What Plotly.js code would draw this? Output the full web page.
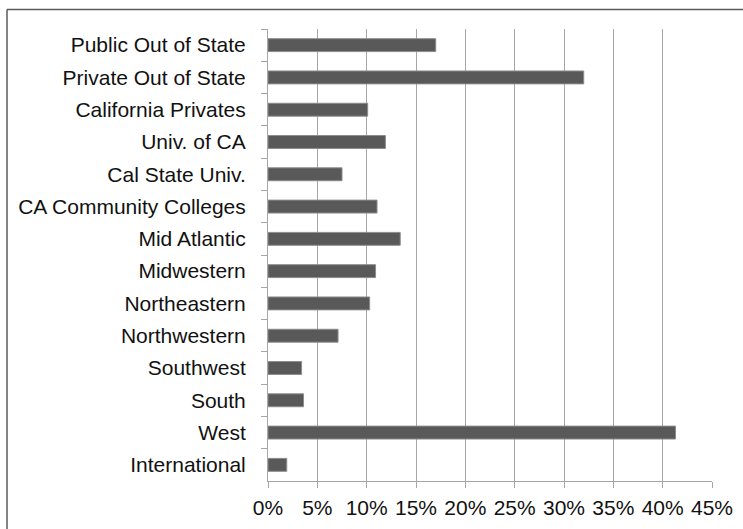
<!DOCTYPE html>
<html>
<head>
<meta charset="utf-8">
<script src="https://cdn.plot.ly/plotly-3.0.1.min.js"></script>
<style>html,body{margin:0;padding:0;background:#fff;}#chart{width:743px;height:529px;}</style>
</head>
<body>
<div id="chart"></div>
<script>
const categories = [
  "Public Out of State", "Private Out of State", "California Privates", "Univ. of CA",
  "Cal State Univ.", "CA Community Colleges", "Mid Atlantic", "Midwestern",
  "Northeastern", "Northwestern", "Southwest", "South", "West", "International"
];
const shares = [0.170, 0.320, 0.101, 0.119, 0.075, 0.1105, 0.134, 0.109, 0.103, 0.071, 0.034, 0.036, 0.413, 0.019];
const tickValues = [0, 0.05, 0.10, 0.15, 0.20, 0.25, 0.30, 0.35, 0.40, 0.45];
const tickLabels = ["0%", "5%", "10%", "15%", "20%", "25%", "30%", "35%", "40%", "45%"];

const L = 268, R = 712, T = 29, B = 481, W = 743, H = 529;
const px = x => (x - L) / (R - L);
const py = y => (B - y) / (B - T);

const family = "Liberation Sans Narrow, Arial Narrow, Liberation Sans, Arial, sans-serif";
const yFont = {family: family, size: 21, color: "#111"};
const xFont = {family: family, size: 21, color: "#111"};

Plotly.newPlot("chart", [{
  type: "bar",
  orientation: "h",
  x: shares,
  y: categories,
  marker: {color: "#595959", line: {color: "#8c8c8c", width: 1}},
  hoverinfo: "none"
}], {
  width: W, height: H,
  margin: {l: L, r: W - R, t: T, b: H - B, pad: 0},
  paper_bgcolor: "#fff", plot_bgcolor: "#fff",
  bargap: 0.6,
  showlegend: false,
  font: yFont,
  xaxis: {
    range: [0, 0.45], tickvals: tickValues, ticktext: tickLabels,
    showgrid: true, gridcolor: "#a6a6a6", gridwidth: 1,
    zeroline: false, showline: true, linecolor: "#a6a6a6", linewidth: 1,
    ticks: "outside", ticklen: 6, tickcolor: "#a6a6a6", tickfont: xFont,
    ticklabelstandoff: 2, fixedrange: true
  },
  yaxis: {
    type: "category", autorange: "reversed",
    showgrid: false, zeroline: false, showline: true, linecolor: "#a6a6a6", linewidth: 1,
    ticks: "outside", tickson: "boundaries", ticklen: 6, tickcolor: "#a6a6a6",
    tickfont: yFont, ticklabelstandoff: 17, fixedrange: true
  },
  shapes: [
    {type: "line", xref: "paper", yref: "paper", x0: px(7), x1: px(743), y0: py(9.5), y1: py(9.5), line: {color: "#5a5a5a", width: 1.5}},
    {type: "line", xref: "paper", yref: "paper", x0: px(7), x1: px(7), y0: py(9.5), y1: py(529), line: {color: "#5a5a5a", width: 1.5}}
  ]
}, {displayModeBar: false, staticPlot: true});
</script>
</body>
</html>
